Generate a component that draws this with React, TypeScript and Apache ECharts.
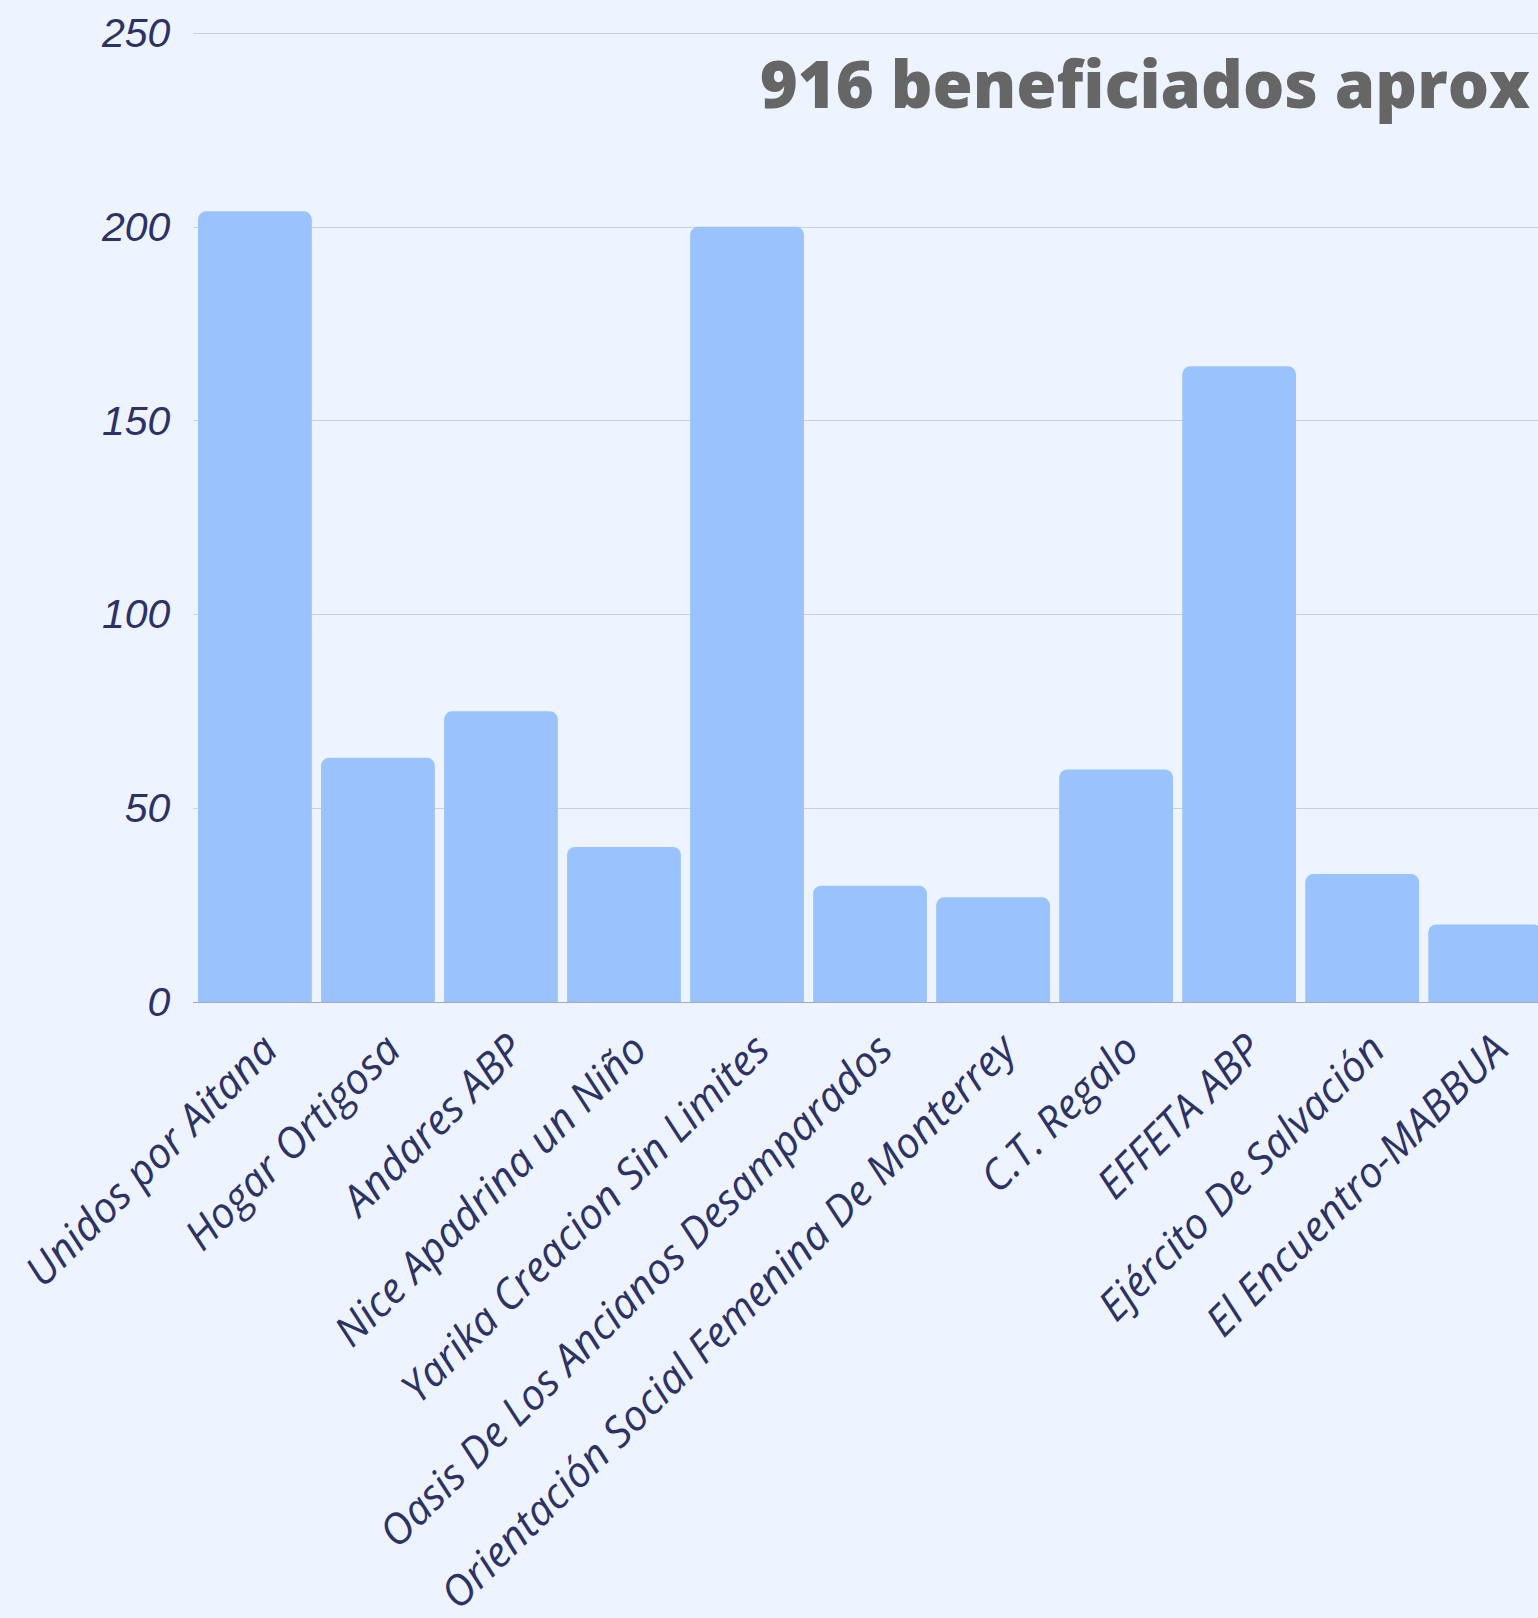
import React, { useEffect, useRef } from "react";
import * as echarts from "echarts";

const categories = [
  "Unidos por Aitana",
  "Hogar Ortigosa",
  "Andares ABP",
  "Nice Apadrina un Niño",
  "Yarika Creacion Sin Limites",
  "Oasis De Los Ancianos Desamparados",
  "Orientación Social Femenina De Monterrey",
  "C.T. Regalo",
  "EFFETA ABP",
  "Ejército De Salvación",
  "El Encuentro-MABBUA",
];
const beneficiados = [204, 63, 75, 40, 200, 30, 27, 60, 164, 33, 20];
const yTicks = { min: 0, max: 250, interval: 50 };
const titleText = "916 beneficiados aprox";

export default function App() {
  const ref = useRef<HTMLDivElement>(null);
  useEffect(() => {
    document.body.style.margin = "0";
    const chart = echarts.init(ref.current!, null, { renderer: "svg" });
    const navy = "#2d3264";
    chart.setOption({
      animation: false,
      backgroundColor: "#edf4ff",
      graphic: [
        {
          type: "text",
          style: {
            text: titleText,
            x: 1530,
            y: 83,
            textAlign: "right",
            textVerticalAlign: "middle",
            fontFamily: "Open Sans",
            fontWeight: 800,
            fontSize: 65,
            fill: "#666666",
          },
          z: 10,
        },
      ],
      grid: {
        left: 193.4,
        width: 1353.3,
        top: 33,
        height: 969,
        containLabel: false,
        outerBoundsMode: "none",
      },
      xAxis: {
        type: "category",
        data: categories,
        axisTick: { show: false },
        axisLine: { show: true, lineStyle: { color: "#a4a9bd", width: 1 } },
        axisLabel: {
          rotate: 45,
          interval: 0,
          margin: 25,
          color: navy,
          fontFamily: "Open Sans",
          fontStyle: "italic",
          fontSize: 42,
          lineHeight: 38,
          verticalAlign: "top",
        },
      },
      yAxis: {
        type: "value",
        min: yTicks.min,
        max: yTicks.max,
        interval: yTicks.interval,
        axisLine: { show: false },
        axisTick: { show: false },
        splitLine: { lineStyle: { color: "#c9cfe0", width: 1 } },
        axisLabel: {
          margin: 23,
          color: navy,
          fontFamily: "Liberation Sans",
          fontStyle: "italic",
          fontSize: 41,
        },
      },
      series: [
        {
          type: "bar",
          data: beneficiados,
          barCategoryGap: "7.5%",
          itemStyle: { color: "#9ac3fe", borderRadius: [8, 8, 0, 0] },
        },
      ],
    });
    return () => chart.dispose();
  }, []);
  return (
    <div
      ref={ref}
      style={{ position: "absolute", left: 0, top: 0, width: 1538, height: 1618 }}
    />
  );
}
